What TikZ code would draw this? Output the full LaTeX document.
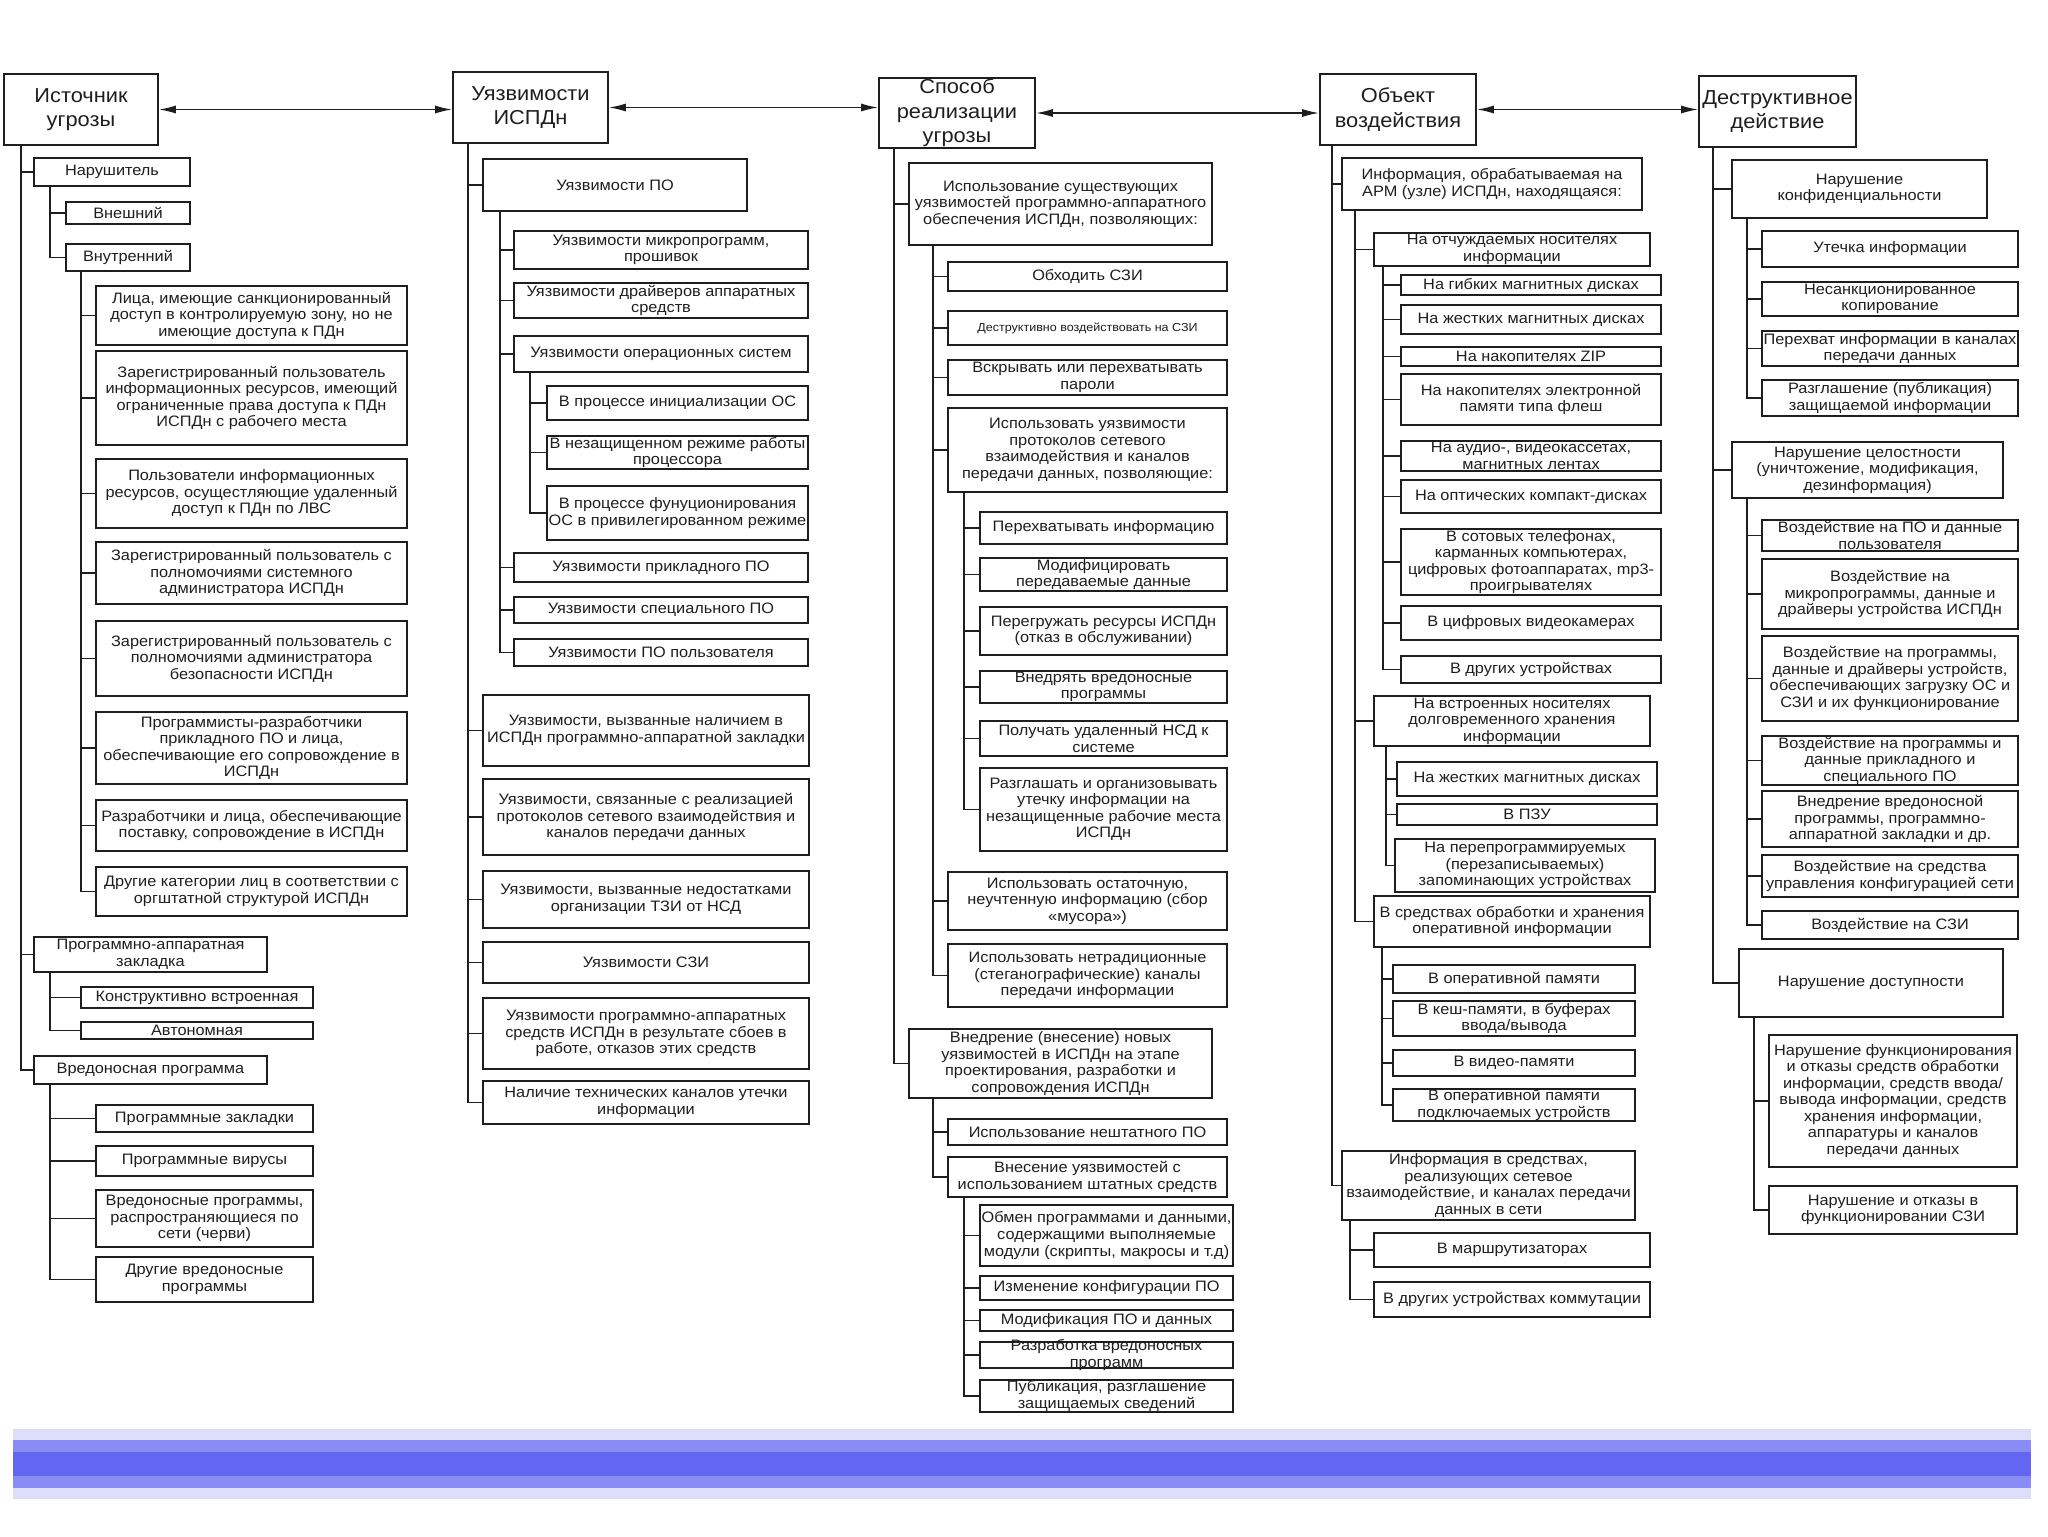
\documentclass[tikz,border=0pt]{standalone}
\usepackage{fontspec}
\setmainfont{Liberation Sans}[FakeStretch=1.08]
\usetikzlibrary{arrows.meta}

\definecolor{ink}{HTML}{1E1E1E}
\definecolor{bandlight}{HTML}{DCDEFA}
\definecolor{bandmid}{HTML}{8A8CF5}
\definecolor{banddark}{HTML}{6366F0}

\newcommand{\bodyfont}{\fontsize{8.6}{9.4}\selectfont}
\newcommand{\hdrfont}{\fontsize{11.5}{14}\selectfont}
\newcommand{\smallfont}{\fontsize{6.6}{8}\selectfont}

% box with corners (#3,#4) and (#5,#6), text on top
\newcommand{\ubox}[7][\bodyfont]{%
  \node[box, minimum width={(#5-#3)*0.02cm}, minimum height={(#6-#4)*0.02cm}] (#2) at ({(#3+#5)/2},{(#4+#6)/2}) {};
  \node[txt, font=#1] (#2-t) at (#2.center) {#7};}

\begin{document}
\begin{tikzpicture}[
        x=0.02cm, y=-0.02cm,
        box/.style={draw=ink, line width=0.9pt, inner sep=0pt},
        txt/.style={align=center, text=ink, inner sep=0pt},
        con/.style={draw=ink, line width=0.9pt},
        arr/.style={<->, draw=ink, line width=0.9pt},
        >={Latex[length=3.4mm,width=1.6mm]}
    ]
    \useasboundingbox (0,0) rectangle (2048,1536);

    % --- Column 1: source of threat ---
    \ubox[\hdrfont]{ist}{4}{74}{158}{145}{Источник\\угрозы}
    \ubox{nar}{34}{158}{190}{186}{Нарушитель}
    \ubox{vnesh}{66}{202}{190}{224}{Внешний}
    \ubox{vnutr}{66}{244}{190}{271}{Внутренний}
    \ubox{v1}{96}{286}{407}{345}{Лица, имеющие санкционированный\\доступ в контролируемую зону, но не\\имеющие доступа к ПДн}
    \ubox{v2}{96}{351}{407}{445}{Зарегистрированный пользователь\\информационных ресурсов, имеющий\\ограниченные права доступа к ПДн\\ИСПДн с рабочего места}
    \ubox{v3}{96}{459}{407}{528}{Пользователи информационных\\ресурсов, осущестляющие удаленный\\доступ к ПДн по ЛВС}
    \ubox{v4}{96}{542}{407}{604}{Зарегистрированный пользователь с\\полномочиями системного\\администратора ИСПДн}
    \ubox{v5}{96}{621}{407}{696}{Зарегистрированный пользователь с\\полномочиями администратора\\безопасности ИСПДн}
    \ubox{v6}{96}{712}{407}{784}{Программисты-разработчики\\прикладного ПО и лица,\\обеспечивающие его сопровождение в\\ИСПДн}
    \ubox{v7}{96}{800}{407}{851}{Разработчики и лица, обеспечивающие\\поставку, сопровождение в ИСПДн}
    \ubox{v8}{96}{867}{407}{916}{Другие категории лиц в соответствии с\\оргштатной структурой ИСПДн}
    \ubox{pak}{34}{937}{267}{972}{Программно-аппаратная\\закладка}
    \ubox{pak1}{81}{987}{313}{1008}{Конструктивно встроенная}
    \ubox{pak2}{81}{1022}{313}{1039}{Автономная}
    \ubox{vp}{34}{1056}{267}{1084}{Вредоносная программа}
    \ubox{vp1}{96}{1105}{313}{1132}{Программные закладки}
    \ubox{vp2}{96}{1146}{313}{1176}{Программные вирусы}
    \ubox{vp3}{96}{1190}{313}{1247}{Вредоносные программы,\\распространяющиеся по\\сети (черви)}
    \ubox{vp4}{96}{1257}{313}{1302}{Другие вредоносные\\программы}

    % --- Column 2: vulnerabilities ---
    \ubox[\hdrfont]{uya}{453}{72}{608}{143}{Уязвимости\\ИСПДн}
    \ubox{po}{483}{159}{747}{211}{Уязвимости ПО}
    \ubox{po1}{514}{231}{808}{269}{Уязвимости микропрограмм,\\прошивок}
    \ubox{po2}{514}{283}{808}{318}{Уязвимости драйверов аппаратных\\средств}
    \ubox{os}{514}{336}{808}{372}{Уязвимости операционных систем}
    \ubox{os1}{547}{386}{808}{420}{В процессе инициализации ОС}
    \ubox{os2}{547}{436}{808}{469}{В незащищенном режиме работы\\процессора}
    \ubox{os3}{547}{486}{808}{540}{В процессе фунуционирования\\ОС в привилегированном режиме}
    \ubox{po3}{514}{553}{808}{582}{Уязвимости прикладного ПО}
    \ubox{po4}{514}{597}{808}{623}{Уязвимости специального ПО}
    \ubox{po5}{514}{639}{808}{666}{Уязвимости ПО пользователя}
    \ubox{u1}{483}{695}{809}{766}{Уязвимости, вызванные наличием в\\ИСПДн программно-аппаратной закладки}
    \ubox{u2}{483}{779}{809}{855}{Уязвимости, связанные с реализацией\\протоколов сетевого взаимодействия и\\каналов передачи данных}
    \ubox{u3}{483}{871}{809}{928}{Уязвимости, вызванные недостатками\\организации ТЗИ от НСД}
    \ubox{u4}{483}{942}{809}{983}{Уязвимости СЗИ}
    \ubox{u5}{483}{998}{809}{1069}{Уязвимости программно-аппаратных\\средств ИСПДн в результате сбоев в\\работе, отказов этих средств}
    \ubox{u6}{483}{1081}{809}{1124}{Наличие технических каналов утечки\\информации}

    % --- Column 3: way of realisation ---
    \ubox[\hdrfont]{spo}{879}{78}{1035}{148}{Способ\\реализации\\угрозы}
    \ubox{isp}{909}{163}{1212}{245}{Использование существующих\\уязвимостей программно-аппаратного\\обеспечения ИСПДн, позволяющих:}
    \ubox{isp1}{948}{262}{1227}{291}{Обходить СЗИ}
    \ubox[\smallfont]{isp2}{948}{311}{1227}{345}{Деструктивно воздействовать на СЗИ}
    \ubox{isp3}{948}{360}{1227}{395}{Вскрывать или перехватывать\\пароли}
    \ubox{prot}{948}{408}{1227}{492}{Использовать уязвимости\\протоколов сетевого\\взаимодействия и каналов\\передачи данных, позволяющие:}
    \ubox{prot1}{980}{512}{1227}{544}{Перехватывать информацию}
    \ubox{prot2}{980}{558}{1227}{591}{Модифицировать\\передаваемые данные}
    \ubox{prot3}{980}{607}{1227}{655}{Перегружать ресурсы ИСПДн\\(отказ в обслуживании)}
    \ubox{prot4}{980}{671}{1227}{703}{Внедрять вредоносные\\программы}
    \ubox{prot5}{980}{721}{1227}{756}{Получать удаленный НСД к\\системе}
    \ubox{prot6}{980}{768}{1227}{851}{Разглашать и организовывать\\утечку информации на\\незащищенные рабочие места\\ИСПДн}
    \ubox{isp4}{948}{872}{1227}{930}{Использовать остаточную,\\неучтенную информацию (сбор\\«мусора»)}
    \ubox{isp5}{948}{944}{1227}{1007}{Использовать нетрадиционные\\(стеганографические) каналы\\передачи информации}
    \ubox{vn}{909}{1029}{1212}{1098}{Внедрение (внесение) новых\\уязвимостей в ИСПДн на этапе\\проектирования, разработки и\\сопровождения ИСПДн}
    \ubox{vn1}{948}{1119}{1227}{1145}{Использование нештатного ПО}
    \ubox{vn2}{948}{1157}{1227}{1197}{Внесение уязвимостей с\\использованием штатных средств}
    \ubox{vn21}{980}{1205}{1233}{1266}{Обмен программами и данными,\\содержащими выполняемые\\модули (скрипты, макросы и т.д)}
    \ubox{vn22}{980}{1276}{1233}{1300}{Изменение конфигурации ПО}
    \ubox{vn23}{980}{1310}{1233}{1331}{Модификация ПО и данных}
    \ubox{vn24}{980}{1342}{1233}{1368}{Разработка вредоносных\\программ}
    \ubox{vn25}{980}{1380}{1233}{1412}{Публикация, разглашение\\защищаемых сведений}

    % --- Column 4: object ---
    \ubox[\hdrfont]{obj}{1320}{74}{1476}{145}{Объект\\воздействия}
    \ubox{arm}{1342}{158}{1642}{210}{Информация, обрабатываемая на\\АРМ (узле) ИСПДн, находящаяся:}
    \ubox{otch}{1374}{233}{1650}{266}{На отчуждаемых носителях\\информации}
    \ubox{o1}{1401}{275}{1661}{295}{На гибких магнитных дисках}
    \ubox{o2}{1401}{305}{1661}{334}{На жестких магнитных дисках}
    \ubox{o3}{1401}{347}{1661}{366}{На накопителях ZIP}
    \ubox{o4}{1401}{374}{1661}{425}{На накопителях электронной\\памяти типа флеш}
    \ubox{o5}{1401}{441}{1661}{471}{На аудио-, видеокассетах,\\магнитных лентах}
    \ubox{o6}{1401}{480}{1661}{513}{На оптических компакт-дисках}
    \ubox{o7}{1401}{529}{1661}{595}{В сотовых телефонах,\\карманных компьютерах,\\цифровых фотоаппаратах, mp3-\\проигрывателях}
    \ubox{o8}{1401}{606}{1661}{640}{В цифровых видеокамерах}
    \ubox{o9}{1401}{656}{1661}{683}{В других устройствах}
    \ubox{vstr}{1374}{696}{1650}{746}{На встроенных носителях\\долговременного хранения\\информации}
    \ubox{w1}{1397}{762}{1657}{796}{На жестких магнитных дисках}
    \ubox{w2}{1397}{804}{1657}{825}{В ПЗУ}
    \ubox{w3}{1395}{839}{1655}{892}{На перепрограммируемых\\(перезаписываемых)\\запоминающих устройствах}
    \ubox{oper}{1374}{896}{1650}{947}{В средствах обработки и хранения\\оперативной информации}
    \ubox{op1}{1393}{965}{1635}{993}{В оперативной памяти}
    \ubox{op2}{1393}{1001}{1635}{1036}{В кеш-памяти, в буферах\\ввода/вывода}
    \ubox{op3}{1393}{1050}{1635}{1076}{В видео-памяти}
    \ubox{op4}{1393}{1089}{1635}{1121}{В оперативной памяти\\подключаемых устройств}
    \ubox{set}{1342}{1151}{1635}{1220}{Информация в средствах,\\реализующих сетевое\\взаимодействие, и каналах передачи\\данных в сети}
    \ubox{set1}{1374}{1233}{1650}{1267}{В маршрутизаторах}
    \ubox{set2}{1374}{1282}{1650}{1317}{В других устройствах коммутации}

    % --- Column 5: destructive action ---
    \ubox[\hdrfont]{des}{1699}{76}{1856}{147}{Деструктивное\\действие}
    \ubox{konf}{1732}{160}{1987}{218}{Нарушение\\конфиденциальности}
    \ubox{k1}{1762}{231}{2018}{267}{Утечка информации}
    \ubox{k2}{1762}{282}{2018}{316}{Несанкционированное\\копирование}
    \ubox{k3}{1762}{331}{2018}{366}{Перехват информации в каналах\\передачи данных}
    \ubox{k4}{1762}{380}{2018}{416}{Разглашение (публикация)\\защищаемой информации}
    \ubox{cel}{1732}{442}{2003}{498}{Нарушение целостности\\(уничтожение, модификация,\\дезинформация)}
    \ubox{c1}{1762}{520}{2018}{551}{Воздействие на ПО и данные\\пользователя}
    \ubox{c2}{1762}{559}{2018}{629}{Воздействие на\\микропрограммы, данные и\\драйверы устройства ИСПДн}
    \ubox{c3}{1762}{636}{2018}{721}{Воздействие на программы,\\данные и драйверы устройств,\\обеспечивающих загрузку ОС и\\СЗИ и их функционирование}
    \ubox{c4}{1762}{736}{2018}{785}{Воздействие на программы и\\данные прикладного и\\специального ПО}
    \ubox{c5}{1762}{791}{2018}{847}{Внедрение вредоносной\\программы, программно-\\аппаратной закладки и др.}
    \ubox{c6}{1762}{855}{2018}{897}{Воздействие на средства\\управления конфигурацией сети}
    \ubox{c7}{1762}{911}{2018}{939}{Воздействие на СЗИ}
    \ubox{dost}{1739}{949}{2003}{1017}{Нарушение доступности}
    \ubox{d1}{1769}{1035}{2017}{1167}{Нарушение функционирования\\и отказы средств обработки\\информации, средств ввода/\\вывода информации, средств\\хранения информации,\\аппаратуры и каналов\\передачи данных}
    \ubox{d2}{1769}{1186}{2017}{1234}{Нарушение и отказы в\\функционировании СЗИ}

    % --- Trunk lines ---
    \coordinate (t-ist) at (21,0);    \coordinate (t-nar) at (50,0);
    \coordinate (t-vnutr) at (81,0);  \coordinate (t-pak) at (50,0);
    \coordinate (t-vp) at (50,0);
    \coordinate (t-uya) at (468,0);   \coordinate (t-po) at (500,0);
    \coordinate (t-os) at (530,0);
    \coordinate (t-spo) at (894,0);   \coordinate (t-isp) at (933,0);
    \coordinate (t-prot) at (964,0);  \coordinate (t-vn) at (933,0);
    \coordinate (t-vn2) at (964,0);
    \coordinate (t-obj) at (1332,0);  \coordinate (t-arm) at (1355,0);
    \coordinate (t-otch) at (1383,0); \coordinate (t-vstr) at (1386,0);
    \coordinate (t-oper) at (1382,0); \coordinate (t-set) at (1350,0);
    \coordinate (t-des) at (1713,0);  \coordinate (t-konf) at (1747,0);
    \coordinate (t-cel) at (1747,0);  \coordinate (t-dost) at (1754,0);

    \foreach \c in {nar,pak,vp} \draw[con] (ist.south -| t-ist) |- (\c.west);
    \foreach \c in {vnesh,vnutr} \draw[con] (nar.south -| t-nar) |- (\c.west);
    \foreach \c in {v1,v2,v3,v4,v5,v6,v7,v8} \draw[con] (vnutr.south -| t-vnutr) |- (\c.west);
    \foreach \c in {pak1,pak2} \draw[con] (pak.south -| t-pak) |- (\c.west);
    \foreach \c in {vp1,vp2,vp3,vp4} \draw[con] (vp.south -| t-vp) |- (\c.west);

    \foreach \c in {po,u1,u2,u3,u4,u5,u6} \draw[con] (uya.south -| t-uya) |- (\c.west);
    \foreach \c in {po1,po2,os,po3,po4,po5} \draw[con] (po.south -| t-po) |- (\c.west);
    \foreach \c in {os1,os2,os3} \draw[con] (os.south -| t-os) |- (\c.west);

    \foreach \c in {isp,vn} \draw[con] (spo.south -| t-spo) |- (\c.west);
    \foreach \c in {isp1,isp2,isp3,prot,isp4,isp5} \draw[con] (isp.south -| t-isp) |- (\c.west);
    \foreach \c in {prot1,prot2,prot3,prot4,prot5,prot6} \draw[con] (prot.south -| t-prot) |- (\c.west);
    \foreach \c in {vn1,vn2} \draw[con] (vn.south -| t-vn) |- (\c.west);
    \foreach \c in {vn21,vn22,vn23,vn24,vn25} \draw[con] (vn2.south -| t-vn2) |- (\c.west);

    \foreach \c in {arm,set} \draw[con] (obj.south -| t-obj) |- (\c.west);
    \foreach \c in {otch,vstr,oper} \draw[con] (arm.south -| t-arm) |- (\c.west);
    \foreach \c in {o1,o2,o3,o4,o5,o6,o7,o8,o9} \draw[con] (otch.south -| t-otch) |- (\c.west);
    \foreach \c in {w1,w2,w3} \draw[con] (vstr.south -| t-vstr) |- (\c.west);
    \foreach \c in {op1,op2,op3,op4} \draw[con] (oper.south -| t-oper) |- (\c.west);
    \foreach \c in {set1,set2} \draw[con] (set.south -| t-set) |- (\c.west);

    \foreach \c in {konf,cel,dost} \draw[con] (des.south -| t-des) |- (\c.west);
    \foreach \c in {k1,k2,k3,k4} \draw[con] (konf.south -| t-konf) |- (\c.west);
    \foreach \c in {c1,c2,c3,c4,c5,c6,c7} \draw[con] (cel.south -| t-cel) |- (\c.west);
    \foreach \c in {d1,d2} \draw[con] (dost.south -| t-dost) |- (\c.west);

    % --- Arrows between headers ---
    \draw[arr] (ist.east) -- (ist.east -| uya.west);
    \draw[arr] (uya.east) -- (uya.east -| spo.west);
    \draw[arr] (spo.east) -- (spo.east -| obj.west);
    \draw[arr] (obj.east) -- (obj.east -| des.west);

    % --- Bottom band ---
    \fill[bandlight] (13,1429) rectangle (2031,1499);
    \fill[bandmid] (13,1440) rectangle (2031,1488);
    \fill[banddark] (13,1452) rectangle (2031,1476);
\end{tikzpicture}
\end{document}
